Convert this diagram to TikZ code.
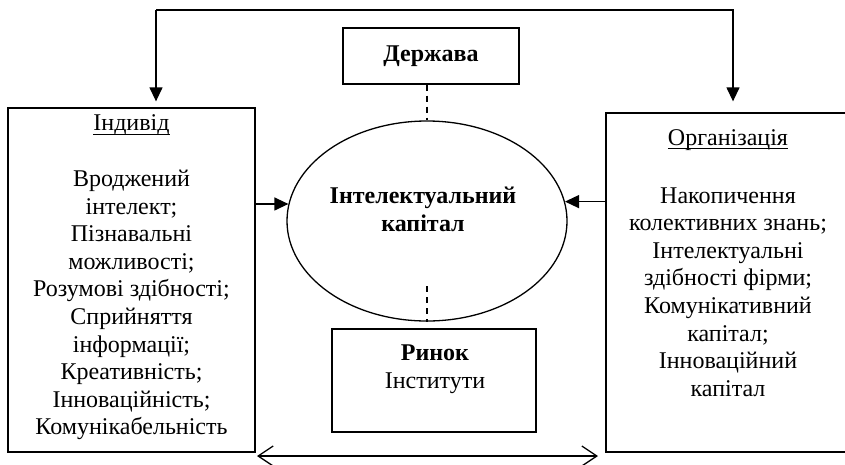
\documentclass[tikz,border=0pt]{standalone}
\usepackage{fontspec}
\setmainfont{Liberation Serif}
\usetikzlibrary{arrows.meta,shapes.geometric}
\newcommand\undl[1]{\setbox0\hbox{#1}\rlap{\rule[-4pt]{\wd0}{1.1pt}}\box0}

\begin{document}
\begin{tikzpicture}[x=1pt, y=-1pt, line width=1.3pt,
  box/.style={draw, rectangle, inner sep=0pt},
  txt/.style={align=center, inner sep=0pt, font=\fontsize{24}{27.6}\selectfont},
  fillarrow/.style={-{Triangle[length=14pt, width=13pt]}},
  openarrows/.style={{Straight Barb[length=15pt, width=20pt]}-{Straight Barb[length=15pt, width=20pt]}}]
\useasboundingbox (0,0) rectangle (845,464);
\node[box, minimum width=247pt, minimum height=344pt] (indiv) at (131.5,280) {};
\node[box, minimum width=244pt, minimum height=339pt] (org) at (728,282.5) {};
\node[box, minimum width=176pt, minimum height=56pt] (derzh) at (431,56) {};
\node[box, minimum width=204pt, minimum height=103pt] (rynok) at (434,380.5) {};
\node[draw, ellipse, minimum width=280pt, minimum height=200pt, inner sep=0pt] (ell) at (427,221) {};
\node[txt] (indivtitle) at (131.5,125) {\undl{Індивід}};
\node[txt] (indivtext) at (131.5,305) {Вроджений\\ інтелект;\\ Пізнавальні\\ можливості;\\ Розумові здібності;\\ Сприйняття\\ інформації;\\ Креативність;\\ Інноваційність;\\ Комунікабельність};
\node[txt] (orgtitle) at (728,140) {\undl{Організація}};
\node[txt] (orgtext) at (728,292) {Накопичення\\ колективних знань;\\ Інтелектуальні\\ здібності фірми;\\ Комунікативний\\ капітал;\\ Інноваційний\\ капітал};
\node[txt, font=\fontsize{24}{27.6}\selectfont\bfseries] (derzhtext) at (derzh) {Держава};
\node[txt, font=\fontsize{24}{28}\selectfont\bfseries] (elltext) at (423,209) {Інтелектуальний\\ капітал};
\node[txt, font=\fontsize{24}{28}\selectfont] (rynoktext) at (435,369) {\textbf{Ринок}\\ Інститути};
\coordinate (topleft) at (156,10);
\coordinate (topright) at (733,10);
\coordinate (dashend) at (427,286);
\coordinate (botleft) at (257,456);
\coordinate (botright) at (598,456);
\draw[fillarrow] (topleft) -- ([yshift=6pt]topleft |- indiv.north);
\draw[fillarrow] (topleft) -- (topright) -- ([yshift=11pt]topright |- org.north);
\draw[dashed, dash pattern=on 6pt off 5pt] (derzh.south -| ell.north) -- (ell.north);
\draw[dashed, dash pattern=on 6pt off 5pt] (dashend) -- (ell.south);
\draw[fillarrow] (ell.173 -| indiv.east) -- (ell.173);
\draw[fillarrow] (ell.8 -| org.west) -- (ell.8);
\draw[openarrows] (botleft) -- (botright);
\end{tikzpicture}
\end{document}
